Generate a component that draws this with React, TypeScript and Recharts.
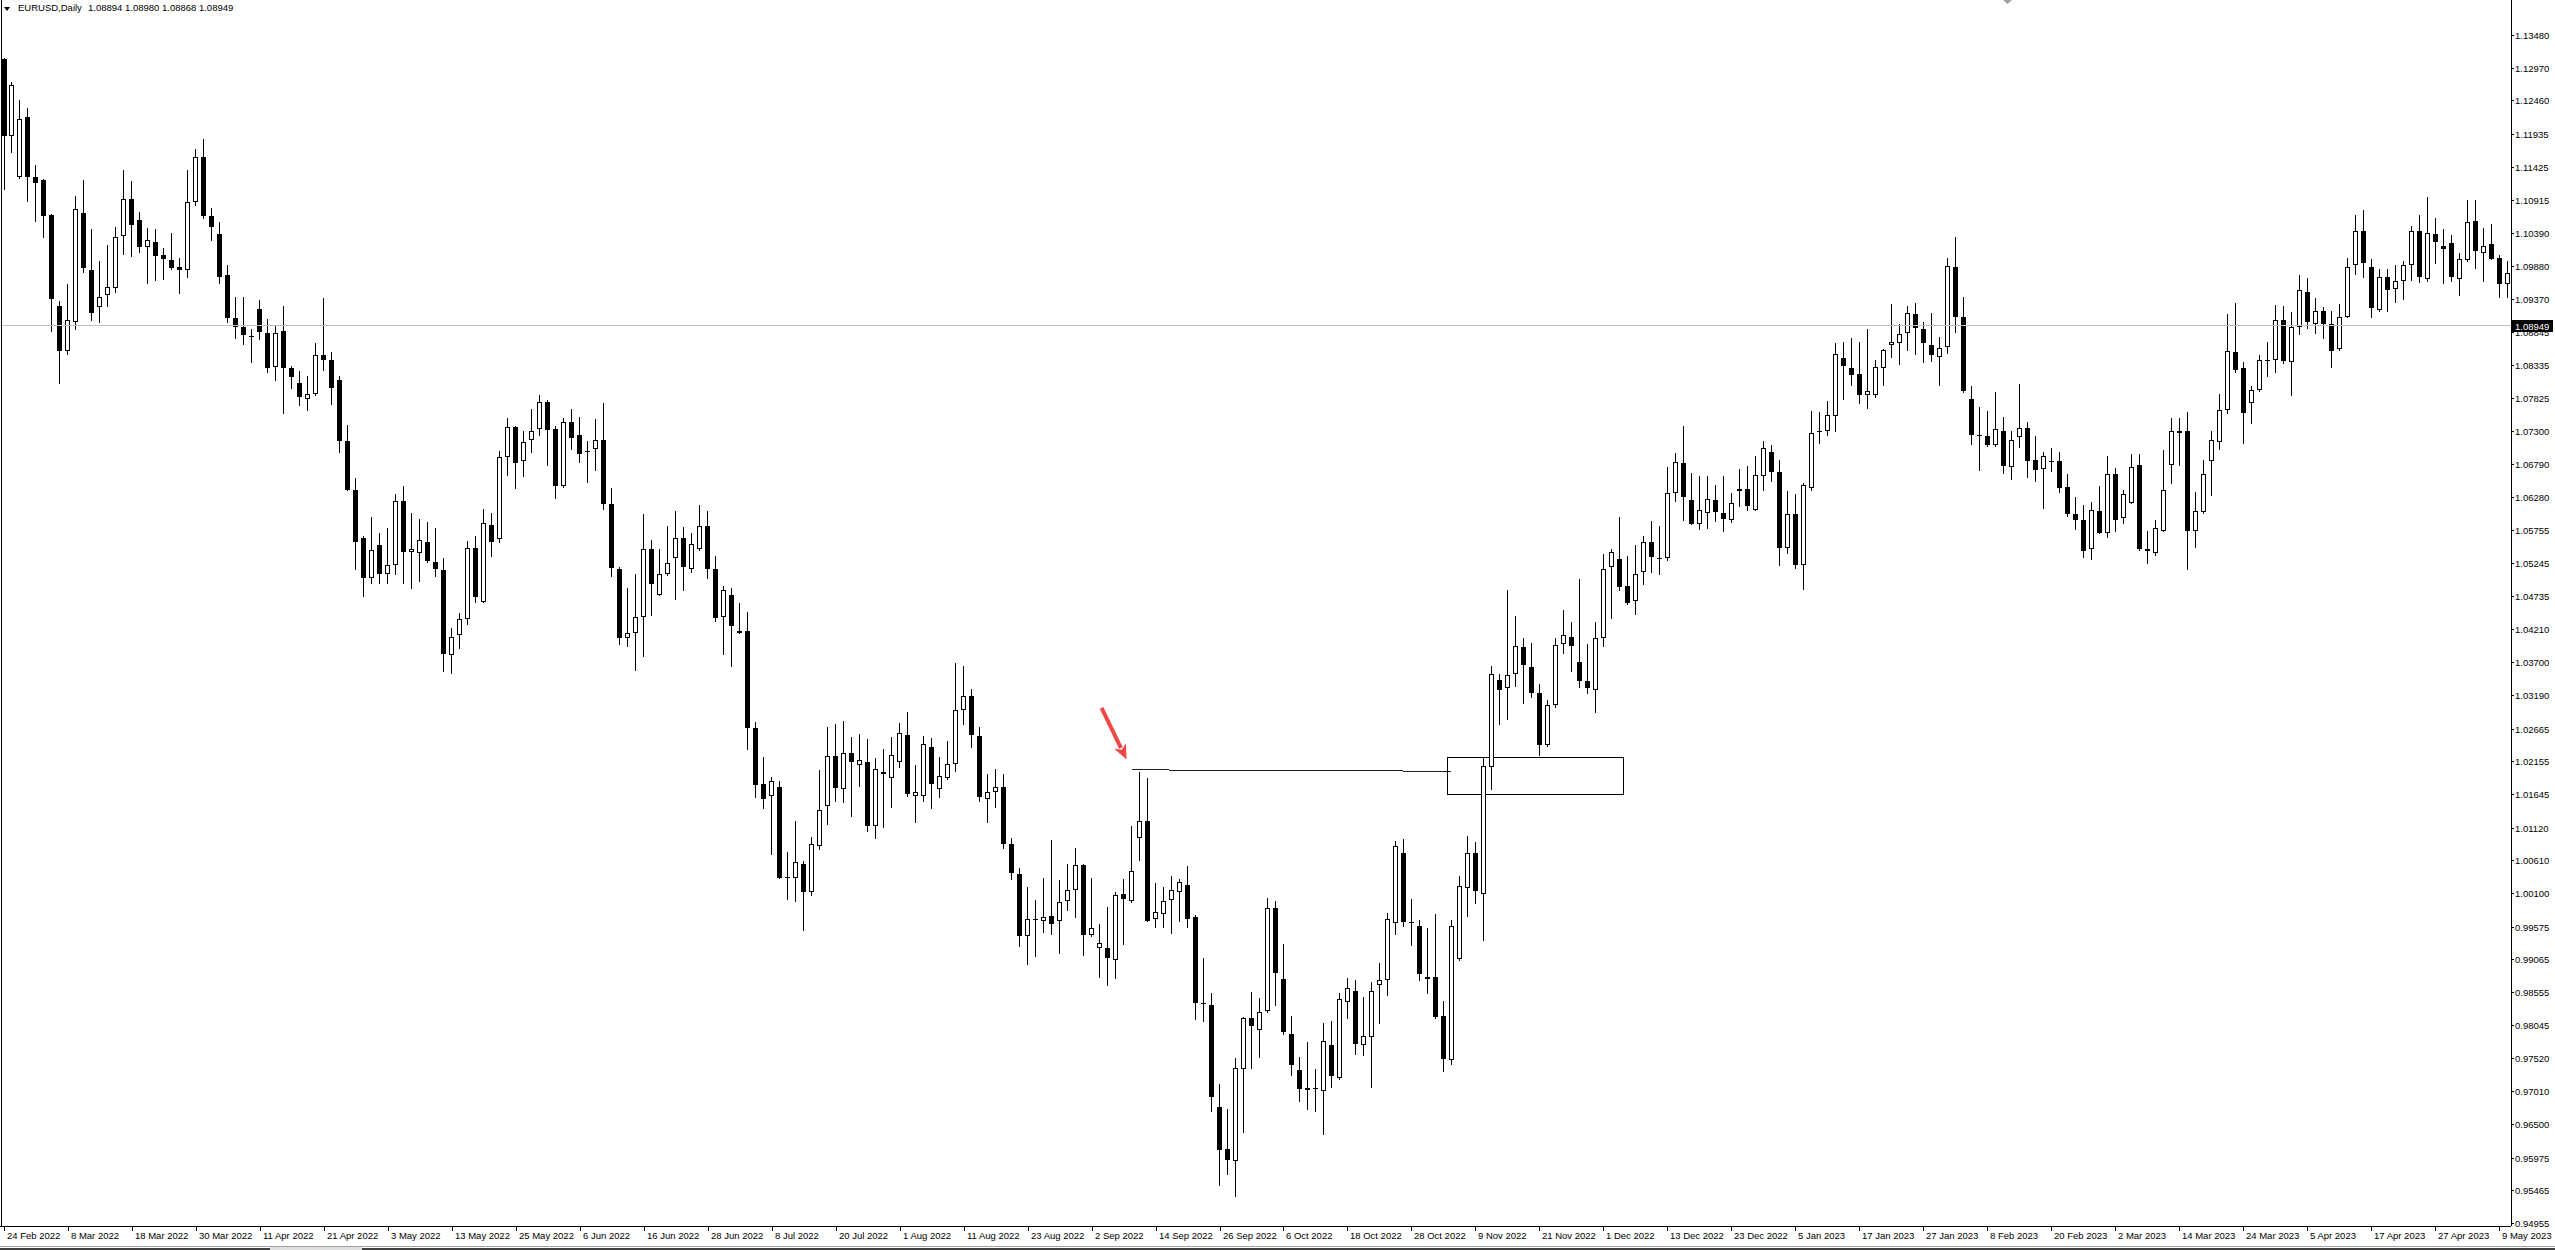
import React from "react";
import { ComposedChart, Bar, XAxis, YAxis, ReferenceLine, ReferenceArea } from "recharts";

// EURUSD daily candles, 24 Feb 2022 .. mid May 2023
const opens = [
  1.1310, 1.1191, 1.1127, 1.1220, 1.1126, 1.1122, 1.1067, 1.0925, 1.0855, 1.0900,
  1.1071, 1.0982, 1.0924, 1.0942, 1.0954, 1.1035, 1.1092, 1.1060, 1.1017, 1.1026,
  1.1005, 1.0997, 1.0986, 1.0981, 1.1087, 1.1157, 1.1065, 1.1037, 1.0973, 1.0906,
  1.0892, 1.0878, 1.0920, 1.0884, 1.0830, 1.0886, 1.0828, 1.0806, 1.0781, 1.0788,
  1.0849, 1.0842, 1.0810, 1.0715, 1.0639, 1.0564, 1.0501, 1.0553, 1.0507, 1.0522,
  1.0622, 1.0542, 1.0541, 1.0558, 1.0526, 1.0514, 1.0381, 1.0412, 1.0437, 1.0548,
  1.0464, 1.0584, 1.0562, 1.0690, 1.0736, 1.0683, 1.0716, 1.0733, 1.0775, 1.0733,
  1.0645, 1.0744, 1.0724, 1.0697, 1.0702, 1.0716, 1.0616, 1.0515, 1.0407, 1.0415,
  1.0440, 1.0546, 1.0475, 1.0507, 1.0532, 1.0564, 1.0516, 1.0547, 1.0582, 1.0515,
  1.0440, 1.0474, 1.0418, 1.0419, 1.0267, 1.0180, 1.0162, 1.0176, 1.0035, 1.0034,
  1.0055, 1.0011, 1.0083, 1.0145, 1.0223, 1.0173, 1.0228, 1.0209, 1.0215, 1.0114,
  1.0199, 1.0190, 1.0215, 1.0257, 1.0161, 1.0162, 1.0238, 1.0173, 1.0190, 1.0212,
  1.0296, 1.0317, 1.0255, 1.0157, 1.0167, 1.0176, 1.0086, 1.0039, 0.9943, 0.9970,
  0.9966, 0.9974, 0.9966, 0.9998, 1.0014, 1.0053, 0.9945, 0.9925, 0.9925, 0.9906,
  1.0008, 0.9997, 1.0096, 1.0122, 0.9969, 0.9977, 0.9999, 1.0012, 1.0022, 0.9973,
  0.9838, 0.9836, 0.9676, 0.9611, 0.9592, 0.9736, 0.9815, 0.9797, 0.9826, 0.9987,
  0.9876, 0.9790, 0.9734, 0.9703, 0.9706, 0.9702, 0.9773, 0.9721, 0.9840, 0.9857,
  0.9773, 0.9786, 0.9866, 0.9874, 0.9964, 1.0073, 0.9965, 0.9959, 0.9879, 0.9879,
  0.9818, 0.9750, 0.9907, 1.0018, 1.0073, 1.0008, 1.0207, 1.0343, 1.0329, 1.0351,
  1.0393, 1.0362, 1.0322, 1.0241, 1.0304, 1.0398, 1.0410, 1.0371, 1.0340, 1.0326,
  1.0407, 1.0519, 1.0531, 1.0489, 1.0466, 1.0511, 1.0558, 1.0533, 1.0532, 1.0634,
  1.0680, 1.0623, 1.0585, 1.0603, 1.0623, 1.0603, 1.0591, 1.0637, 1.0640, 1.0607,
  1.0660, 1.0698, 1.0667, 1.0548, 1.0601, 1.0521, 1.0641, 1.0729, 1.0731, 1.0754,
  1.0844, 1.0828, 1.0819, 1.0787, 1.0787, 1.0828, 1.0865, 1.0867, 1.0884, 1.0913,
  1.0890, 1.0864, 1.0846, 1.0861, 1.0986, 1.0909, 1.0780, 1.0725, 1.0723, 1.0708,
  1.0730, 1.0675, 1.0721, 1.0735, 1.0686, 1.0671, 1.0684, 1.0683, 1.0643, 1.0601,
  1.0591, 1.0546, 1.0605, 1.0571, 1.0663, 1.0595, 1.0619, 1.0678, 1.0547, 1.0541,
  1.0575, 1.0678, 1.0727, 1.0731, 1.0574, 1.0604, 1.0683, 1.0714, 1.0764, 1.0853,
  1.0828, 1.0774, 1.0794, 1.0839, 1.0842, 1.0903, 1.0838, 1.0892, 1.0947, 1.0897,
  1.0917, 1.0897, 1.0858, 1.0909, 1.0990, 1.1043, 1.0986, 1.0919, 1.0970, 1.0952,
  1.0964, 1.0989, 1.1043, 1.0968, 1.1038, 1.1019, 1.1024, 1.0967, 1.0997, 1.1058,
  1.1008, 1.1022, 1.1000, 1.0959,
];

const highs = [
  1.1312, 1.1274, 1.1247, 1.1234, 1.1145, 1.1123, 1.1069, 1.0933, 1.0960, 1.1097,
  1.1122, 1.1046, 1.0995, 1.1020, 1.1048, 1.1138, 1.1120, 1.1072, 1.1047, 1.1046,
  1.1016, 1.1039, 1.1000, 1.1138, 1.1171, 1.1186, 1.1078, 1.1057, 1.0990, 1.0940,
  1.0940, 1.0890, 1.0935, 1.0905, 1.0896, 1.0925, 1.0832, 1.0824, 1.0817, 1.0868,
  1.0938, 1.0854, 1.0817, 1.0740, 1.0657, 1.0567, 1.0596, 1.0572, 1.0580, 1.0633,
  1.0644, 1.0602, 1.0594, 1.0588, 1.0580, 1.0532, 1.0423, 1.0446, 1.0559, 1.0567,
  1.0609, 1.0602, 1.0699, 1.0751, 1.0738, 1.0731, 1.0765, 1.0787, 1.0779, 1.0739,
  1.0750, 1.0765, 1.0752, 1.0715, 1.0749, 1.0774, 1.0642, 1.0519, 1.0486, 1.0507,
  1.0601, 1.0561, 1.0547, 1.0582, 1.0606, 1.0581, 1.0571, 1.0615, 1.0606, 1.0536,
  1.0489, 1.0486, 1.0462, 1.0448, 1.0276, 1.0222, 1.0191, 1.0185, 1.0074, 1.0122,
  1.0060, 1.0098, 1.0202, 1.0269, 1.0274, 1.0278, 1.0254, 1.0258, 1.0250, 1.0220,
  1.0234, 1.0254, 1.0275, 1.0293, 1.0210, 1.0255, 1.0252, 1.0222, 1.0247, 1.0369,
  1.0364, 1.0328, 1.0269, 1.0196, 1.0204, 1.0195, 1.0096, 1.0049, 1.0019, 0.9999,
  1.0034, 1.0093, 1.0031, 1.0056, 1.0081, 1.0056, 1.0034, 0.9961, 0.9988, 1.0012,
  1.0032, 1.0114, 1.0199, 1.0189, 1.0026, 1.0019, 1.0037, 1.0032, 1.0052, 0.9976,
  0.9909, 0.9854, 0.9713, 0.9673, 0.9753, 0.9817, 0.9855, 0.9847, 1.0002, 0.9997,
  0.9930, 0.9818, 0.9755, 0.9777, 0.9736, 0.9808, 0.9811, 0.9854, 0.9877, 0.9874,
  0.9848, 0.9871, 0.9901, 0.9979, 1.0091, 1.0095, 1.0001, 0.9968, 0.9955, 0.9977,
  0.9842, 0.9968, 1.0036, 1.0099, 1.0089, 1.0222, 1.0364, 1.0352, 1.0483, 1.0442,
  1.0408, 1.0400, 1.0336, 1.0311, 1.0407, 1.0451, 1.0432, 1.0499, 1.0398, 1.0432,
  1.0538, 1.0547, 1.0597, 1.0535, 1.0552, 1.0567, 1.0590, 1.0583, 1.0675, 1.0696,
  1.0738, 1.0665, 1.0660, 1.0660, 1.0647, 1.0660, 1.0634, 1.0672, 1.0676, 1.0691,
  1.0715, 1.0709, 1.0685, 1.0637, 1.0633, 1.0649, 1.0761, 1.0760, 1.0777, 1.0867,
  1.0869, 1.0875, 1.0870, 1.0889, 1.0841, 1.0859, 1.0928, 1.0898, 1.0925, 1.0930,
  1.0901, 1.0914, 1.0877, 1.1001, 1.1033, 1.0940, 1.0800, 1.0768, 1.0761, 1.0792,
  1.0752, 1.0730, 1.0804, 1.0744, 1.0723, 1.0698, 1.0704, 1.0698, 1.0663, 1.0627,
  1.0615, 1.0620, 1.0645, 1.0691, 1.0673, 1.0638, 1.0695, 1.0695, 1.0574, 1.0592,
  1.0701, 1.0750, 1.0750, 1.0760, 1.0636, 1.0685, 1.0731, 1.0788, 1.0913, 1.0930,
  1.0838, 1.0801, 1.0849, 1.0870, 1.0927, 1.0925, 1.0916, 1.0974, 1.0969, 1.0938,
  1.0924, 1.0918, 1.0929, 1.1000, 1.1067, 1.1075, 1.0999, 1.0983, 1.0983, 1.0989,
  1.0995, 1.1050, 1.1068, 1.1096, 1.1063, 1.1046, 1.1036, 1.1008, 1.1091, 1.1091,
  1.1047, 1.1054, 1.1005, 1.0995,
];

const lows = [
  1.1108, 1.1166, 1.1125, 1.1089, 1.1058, 1.1033, 1.0886, 1.0806, 1.0851, 1.0890,
  1.0978, 1.0903, 1.0901, 1.0926, 1.0948, 1.1007, 1.1004, 1.1010, 1.0962, 1.0966,
  1.0967, 1.0983, 1.0945, 1.0970, 1.1083, 1.1062, 1.1029, 1.0961, 1.0901, 1.0875,
  1.0866, 1.0838, 1.0874, 1.0822, 1.0810, 1.0759, 1.0797, 1.0771, 1.0764, 1.0786,
  1.0825, 1.0772, 1.0698, 1.0638, 1.0516, 1.0473, 1.0494, 1.0493, 1.0494, 1.0508,
  1.0494, 1.0485, 1.0497, 1.0527, 1.0504, 1.0357, 1.0353, 1.0392, 1.0430, 1.0464,
  1.0464, 1.0535, 1.0557, 1.0662, 1.0641, 1.0661, 1.0697, 1.0725, 1.0678, 1.0626,
  1.0643, 1.0703, 1.0682, 1.0651, 1.0670, 1.0609, 1.0505, 1.0399, 1.0396, 1.0358,
  1.0380, 1.0444, 1.0474, 1.0506, 1.0468, 1.0482, 1.0511, 1.0545, 1.0502, 1.0435,
  1.0382, 1.0364, 1.0415, 1.0235, 1.0160, 1.0143, 1.0071, 1.0033, 1.0000, 0.9997,
  0.9952, 1.0007, 1.0078, 1.0118, 1.0153, 1.0152, 1.0130, 1.0177, 1.0107, 1.0096,
  1.0113, 1.0144, 1.0206, 1.0162, 1.0121, 1.0154, 1.0142, 1.0159, 1.0188, 1.0200,
  1.0274, 1.0237, 1.0154, 1.0121, 1.0144, 1.0080, 1.0032, 0.9927, 0.9900, 0.9912,
  0.9950, 0.9946, 0.9916, 0.9983, 0.9972, 0.9913, 0.9943, 0.9879, 0.9866, 0.9877,
  0.9931, 0.9996, 1.0061, 0.9966, 0.9957, 0.9957, 0.9947, 0.9967, 0.9957, 0.9813,
  0.9810, 0.9670, 0.9554, 0.9572, 0.9538, 0.9638, 0.9737, 0.9754, 0.9825, 0.9836,
  0.9790, 0.9727, 0.9685, 0.9673, 0.9670, 0.9634, 0.9708, 0.9720, 0.9815, 0.9759,
  0.9757, 0.9707, 0.9808, 0.9851, 0.9946, 0.9959, 0.9929, 0.9874, 0.9854, 0.9815,
  0.9732, 0.9744, 0.9906, 0.9974, 0.9994, 0.9937, 1.0172, 1.0273, 1.0282, 1.0333,
  1.0307, 1.0316, 1.0226, 1.0240, 1.0300, 1.0384, 1.0357, 1.0332, 1.0322, 1.0293,
  1.0396, 1.0439, 1.0482, 1.0461, 1.0445, 1.0492, 1.0511, 1.0507, 1.0529, 1.0621,
  1.0592, 1.0585, 1.0577, 1.0580, 1.0590, 1.0574, 1.0588, 1.0613, 1.0608, 1.0607,
  1.0639, 1.0652, 1.0521, 1.0541, 1.0517, 1.0484, 1.0638, 1.0712, 1.0725, 1.0731,
  1.0781, 1.0802, 1.0774, 1.0767, 1.0783, 1.0802, 1.0846, 1.0835, 1.0857, 1.0850,
  1.0838, 1.0840, 1.0802, 1.0852, 1.0885, 1.0792, 1.0711, 1.0670, 1.0707, 1.0707,
  1.0665, 1.0655, 1.0706, 1.0659, 1.0653, 1.0611, 1.0668, 1.0636, 1.0598, 1.0577,
  1.0534, 1.0531, 1.0571, 1.0565, 1.0575, 1.0587, 1.0618, 1.0545, 1.0524, 1.0537,
  1.0574, 1.0650, 1.0678, 1.0516, 1.0550, 1.0603, 1.0630, 1.0703, 1.0758, 1.0823,
  1.0712, 1.0743, 1.0793, 1.0817, 1.0823, 1.0836, 1.0787, 1.0882, 1.0891, 1.0884,
  1.0876, 1.0831, 1.0857, 1.0908, 1.0976, 1.0971, 1.0909, 1.0918, 1.0917, 1.0932,
  1.0937, 1.0966, 1.0963, 1.0965, 1.0992, 1.0962, 1.0964, 1.0942, 1.0995, 1.0985,
  1.0965, 1.0998, 1.0940, 1.0940,
];

const closes = [
  1.1191, 1.1270, 1.1217, 1.1126, 1.1118, 1.1066, 1.0937, 1.0855, 1.0904, 1.1076,
  1.0984, 1.0914, 1.0940, 1.0955, 1.1033, 1.1092, 1.1051, 1.1017, 1.1028, 1.1004,
  1.0998, 1.0984, 1.0981, 1.1087, 1.1158, 1.1066, 1.1049, 1.0971, 1.0906, 1.0893,
  1.0880, 1.0877, 1.0885, 1.0828, 1.0883, 1.0828, 1.0815, 1.0784, 1.0788, 1.0849,
  1.0841, 1.0798, 1.0715, 1.0639, 1.0557, 1.0501, 1.0545, 1.0507, 1.0522, 1.0622,
  1.0542, 1.0547, 1.0561, 1.0528, 1.0515, 1.0382, 1.0410, 1.0437, 1.0548, 1.0471,
  1.0587, 1.0558, 1.0690, 1.0737, 1.0680, 1.0714, 1.0731, 1.0775, 1.0732, 1.0645,
  1.0744, 1.0719, 1.0695, 1.0700, 1.0716, 1.0616, 1.0517, 1.0407, 1.0415, 1.0440,
  1.0546, 1.0492, 1.0508, 1.0524, 1.0564, 1.0519, 1.0554, 1.0582, 1.0515, 1.0439,
  1.0482, 1.0426, 1.0416, 1.0268, 1.0178, 1.0157, 1.0184, 1.0034, 1.0034, 1.0059,
  1.0012, 1.0087, 1.0139, 1.0223, 1.0174, 1.0228, 1.0214, 1.0217, 1.0115, 1.0203,
  1.0195, 1.0225, 1.0259, 1.0164, 1.0167, 1.0243, 1.0180, 1.0193, 1.0212, 1.0296,
  1.0318, 1.0257, 1.0159, 1.0168, 1.0176, 1.0087, 1.0041, 0.9943, 0.9969, 0.9969,
  0.9973, 0.9962, 0.9996, 1.0014, 1.0053, 0.9945, 0.9955, 0.9932, 0.9908, 1.0007,
  1.0000, 1.0045, 1.0123, 0.9967, 0.9980, 0.9997, 1.0014, 1.0027, 0.9970, 0.9838,
  0.9837, 0.9692, 0.9609, 0.9594, 0.9737, 0.9815, 0.9803, 0.9825, 0.9987, 0.9886,
  0.9793, 0.9742, 0.9705, 0.9706, 0.9705, 0.9779, 0.9724, 0.9845, 0.9862, 0.9774,
  0.9787, 0.9858, 0.9874, 0.9969, 1.0084, 0.9965, 0.9964, 0.9884, 0.9876, 0.9816,
  0.9751, 0.9958, 1.0021, 1.0073, 1.0013, 1.0208, 1.0352, 1.0327, 1.0350, 1.0396,
  1.0366, 1.0322, 1.0241, 1.0304, 1.0397, 1.0413, 1.0396, 1.0340, 1.0329, 1.0407,
  1.0516, 1.0542, 1.0487, 1.0463, 1.0507, 1.0558, 1.0534, 1.0532, 1.0634, 1.0682,
  1.0627, 1.0586, 1.0607, 1.0624, 1.0604, 1.0593, 1.0618, 1.0640, 1.0613, 1.0662,
  1.0704, 1.0666, 1.0548, 1.0601, 1.0521, 1.0646, 1.0727, 1.0730, 1.0755, 1.0851,
  1.0832, 1.0818, 1.0787, 1.0793, 1.0831, 1.0857, 1.0869, 1.0881, 1.0915, 1.0891,
  1.0868, 1.0849, 1.0860, 1.0988, 1.0909, 1.0793, 1.0725, 1.0724, 1.0708, 1.0734,
  1.0676, 1.0717, 1.0735, 1.0684, 1.0669, 1.0692, 1.0683, 1.0642, 1.0601, 1.0592,
  1.0544, 1.0607, 1.0572, 1.0664, 1.0592, 1.0633, 1.0674, 1.0547, 1.0543, 1.0579,
  1.0638, 1.0730, 1.0730, 1.0575, 1.0605, 1.0663, 1.0717, 1.0764, 1.0855, 1.0825,
  1.0758, 1.0794, 1.0842, 1.0842, 1.0903, 1.0840, 1.0892, 1.0950, 1.0900, 1.0917,
  1.0897, 1.0856, 1.0909, 1.0987, 1.1043, 1.0993, 1.0922, 1.0970, 1.0951, 1.0965,
  1.0989, 1.1043, 1.0970, 1.1039, 1.1025, 1.1015, 1.0970, 1.0998, 1.1056, 1.1011,
  1.1019, 1.0999, 1.0959, 1.0977,
];

// one label every 8 bars
const dateLabels = [
  "24 Feb 2022", "8 Mar 2022", "18 Mar 2022", "30 Mar 2022", "11 Apr 2022", "21 Apr 2022",
  "3 May 2022", "13 May 2022", "25 May 2022", "6 Jun 2022", "16 Jun 2022", "28 Jun 2022",
  "8 Jul 2022", "20 Jul 2022", "1 Aug 2022", "11 Aug 2022", "23 Aug 2022", "2 Sep 2022",
  "14 Sep 2022", "26 Sep 2022", "6 Oct 2022", "18 Oct 2022", "28 Oct 2022", "9 Nov 2022",
  "21 Nov 2022", "1 Dec 2022", "13 Dec 2022", "23 Dec 2022", "5 Jan 2023", "17 Jan 2023",
  "27 Jan 2023", "8 Feb 2023", "20 Feb 2023", "2 Mar 2023", "14 Mar 2023", "24 Mar 2023",
  "5 Apr 2023", "17 Apr 2023", "27 Apr 2023", "9 May 2023",
];

const priceLabels = [
  "1.13480", "1.12970", "1.12460", "1.11935", "1.11425", "1.10915", "1.10390", "1.09880",
  "1.09370", "1.08845", "1.08335", "1.07825", "1.07300", "1.06790", "1.06280", "1.05755",
  "1.05245", "1.04735", "1.04210", "1.03700", "1.03190", "1.02665", "1.02155", "1.01645",
  "1.01120", "1.00610", "1.00100", "0.99575", "0.99065", "0.98555", "0.98045", "0.97520",
  "0.97010", "0.96500", "0.95975", "0.95465", "0.94955",
];

const header = ["EURUSD,Daily", "1.08894 1.08980 1.08868 1.08949"];
const bid = 1.08949;
const yDomain = [0.94908, 1.14026];

// annotations (bar index, price)
const arrowPts = [{ x: 137, y: 1.02987 }, { x: 140, y: 1.02182 }];
const levelPts = [{ x: 141, y: 1.02021 }, { x: 181, y: 1.02 }];
const zone = { x1: 181, x2: 202, y1: 1.0163, y2: 1.0222 };

const data = opens.map((o, i) => ({
  i,
  range: [lows[i], highs[i]],
  o,
  h: highs[i],
  l: lows[i],
  c: closes[i],
}));

const W = 2555;
const H = 1250;
const AXIS_W = 44;
const X_AXIS_H = 24;
const PLOT_BOTTOM = H - X_AXIS_H;
const AXIS_X = W - AXIS_W;
const FONT = "'Liberation Sans', Arial, sans-serif";
const RED = "#F24848";

function Candle(props: any) {
  const { x, y, width, height, payload } = props;
  if (!payload) return null;
  const { o, h, l, c } = payload;
  const top = Math.min(y, y + height);
  const span = Math.abs(height);
  const k = h - l > 0 ? span / (h - l) : 0;
  const cx = Math.round(x + width / 2);
  const wTop = Math.round(top);
  const wBot = Math.round(top + span);
  const bTop = Math.round(top + (h - Math.max(o, c)) * k);
  const bBot = Math.round(top + (h - Math.min(o, c)) * k);
  const bull = c > o;
  let body;
  if (bBot - bTop < 2) {
    body = <rect x={cx - 2} y={bTop} width={5} height={1} fill="#000" />;
  } else if (bull) {
    body = <rect x={cx - 1.5} y={bTop + 0.5} width={4} height={bBot - bTop - 1} fill="#fff" stroke="#000" strokeWidth={1} />;
  } else {
    body = <rect x={cx - 2} y={bTop} width={5} height={bBot - bTop} fill="#000" />;
  }
  return (
    <g shapeRendering="crispEdges">
      <line x1={cx + 0.5} x2={cx + 0.5} y1={wTop} y2={wBot + 1} stroke="#000" strokeWidth={1} />
      {body}
    </g>
  );
}

function XTick(props: any) {
  const { x, payload } = props;
  const label = dateLabels[payload.value / 8];
  if (label === undefined) return null;
  const px = Math.round(x);
  return (
    <g>
      <line x1={px + 0.5} x2={px + 0.5} y1={PLOT_BOTTOM} y2={PLOT_BOTTOM + 5} stroke="#000" shapeRendering="crispEdges" />
      <text x={px + 3} y={PLOT_BOTTOM + 13} fontSize={9.5} fontFamily={FONT} fill="#000">
        {label}
      </text>
    </g>
  );
}

function YTick(props: any) {
  const { y, payload } = props;
  const v = payload.value;
  const py = Math.round(y);
  if (v === bid) {
    return (
      <g>
        <rect x={AXIS_X + 1} y={py - 6} width={41} height={12} fill="#000" />
        <text x={AXIS_X + 4} y={py + 3.5} fontSize={9.5} fontFamily={FONT} fill="#fff">
          {v.toFixed(5)}
        </text>
      </g>
    );
  }
  return (
    <g>
      <line x1={AXIS_X} x2={AXIS_X + 3} y1={py + 0.5} y2={py + 0.5} stroke="#000" shapeRendering="crispEdges" />
      <text x={AXIS_X + 4} y={py + 3.5} fontSize={9.5} fontFamily={FONT} fill="#000">
        {v.toFixed(5)}
      </text>
    </g>
  );
}

function Arrow(p: any) {
  const x1 = p.x1 + 2, y1 = p.y1, x2 = p.x2 + 3, y2 = p.y2;
  const dx = x2 - x1, dy = y2 - y1;
  const len = Math.hypot(dx, dy) || 1;
  const ux = dx / len, uy = dy / len;
  const headL = 15, headW = 6.5;
  const bx = x2 - ux * headL, by = y2 - uy * headL;
  const nx = -uy, ny = ux;
  return (
    <g>
      <line x1={x1} y1={y1} x2={bx + ux * 2} y2={by + uy * 2} stroke={RED} strokeWidth={4} />
      <polygon
        points={`${x2},${y2} ${bx + nx * headW},${by + ny * headW} ${bx + ux * 4},${by + uy * 4} ${bx - nx * headW},${by - ny * headW}`}
        fill={RED}
      />
    </g>
  );
}

export default function App() {
  const yTicks = [...priceLabels.map(Number), bid];
  return (
    <div style={{ position: "fixed", left: 0, top: 0, width: W, height: H, background: "#fff", overflow: "hidden" }}>
      <style>{`.recharts-cartesian-axis-line, .recharts-reference-line-line, .recharts-reference-area-rect { shape-rendering: crispEdges; }`}</style>
      <ComposedChart width={W} height={H} data={data} margin={{ top: 0, right: 0, bottom: 0, left: 0 }} barCategoryGap={0}>
        <XAxis
          dataKey="i"
          type="category"
          height={X_AXIS_H}
          interval={7}
          tick={<XTick />}
          tickLine={false}
          axisLine={{ stroke: "#000" }}
        />
        <YAxis
          orientation="right"
          width={AXIS_W}
          type="number"
          domain={yDomain}
          allowDataOverflow
          ticks={yTicks}
          interval={0}
          tick={<YTick />}
          tickLine={false}
          axisLine={{ stroke: "#000" }}
        />
        <ReferenceLine y={bid} stroke="#C0C0C0" strokeWidth={1} />
        <Bar dataKey="range" barSize={5} isAnimationActive={false} shape={(p: any) => <Candle {...p} />} />
        <ReferenceLine segment={levelPts} stroke="#222" strokeWidth={1} />
        <ReferenceArea x1={zone.x1} x2={zone.x2} y1={zone.y1} y2={zone.y2} fill="none" fillOpacity={0} stroke="#000" strokeWidth={1} />
        <ReferenceLine segment={arrowPts} shape={(p: any) => <Arrow {...p} />} />
      </ComposedChart>

      {/* frame and terminal chrome */}
      <div style={{ position: "absolute", left: 1, top: 0, width: 1, height: PLOT_BOTTOM, background: "#000" }} />
      <div style={{ position: "absolute", left: 0, top: 1246, width: W, height: 1, background: "#A0A0A0" }} />
      <div style={{ position: "absolute", left: 0, top: 1248, width: W, height: 2, background: "#404040" }} />
      <div style={{ position: "absolute", left: 270, top: 1247, width: 92, height: 3, background: "#E0E0E0" }} />
      <svg style={{ position: "absolute", left: 2003, top: 0 }} width={10} height={5}>
        <polygon points="0,0 9,0 4.5,4" fill="#A0A0A0" />
      </svg>

      {/* header */}
      <svg style={{ position: "absolute", left: 4, top: 7 }} width={6} height={5}>
        <polygon points="0,0 6,0 3,4" fill="#000" />
      </svg>
      <div style={{ position: "absolute", left: 18, top: 2, fontFamily: FONT, fontSize: 9.5, color: "#000", whiteSpace: "pre", lineHeight: "12px" }}>
        {header[0]}
      </div>
      <div style={{ position: "absolute", left: 88, top: 2, fontFamily: FONT, fontSize: 9.5, color: "#000", whiteSpace: "pre", lineHeight: "12px" }}>
        {header[1]}
      </div>
    </div>
  );
}
